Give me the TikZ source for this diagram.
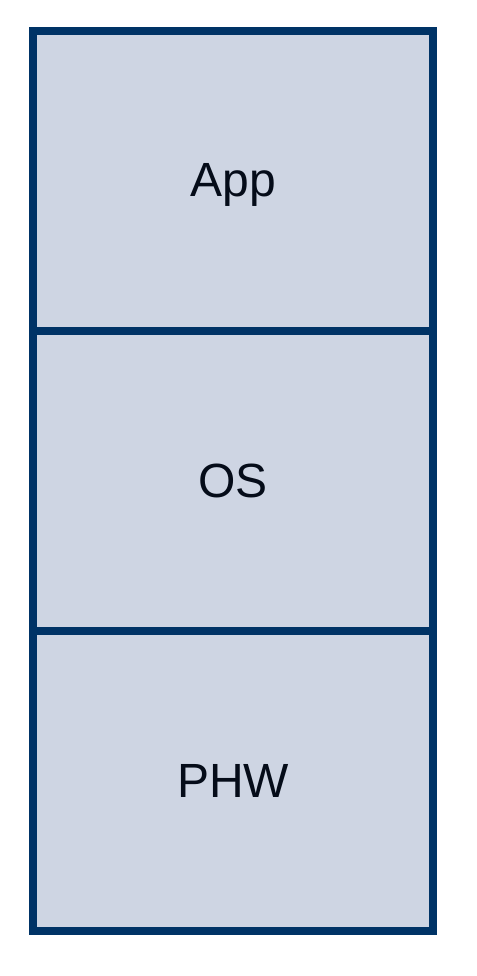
\documentclass[tikz,border=0pt]{standalone}
\usepackage{fontspec}
\setmainfont{Liberation Sans}
\usepackage{tikz}
\usepackage{xcolor}
\usetikzlibrary{positioning}
\definecolor{layerblue}{RGB}{0,51,102}
\definecolor{layerfill}{RGB}{206,213,227}
\definecolor{layertext}{RGB}{5,12,25}

\begin{document}
\begin{tikzpicture}[
        layer/.style={draw=layerblue, fill=layerfill, line width=8pt,
            minimum width=400pt, minimum height=300pt, inner sep=0pt, outer sep=0pt,
            text height=32pt, text depth=0pt,
            text=layertext, font=\fontsize{48}{56}\selectfont}
    ]
            \useasboundingbox (0, 0) rectangle (476pt, -976pt);

            % stack of layers
            \node[layer] (app) at (233pt, -181pt) {App};
            \node[layer, below=0pt of app] (os) {OS};
            \node[layer, below=0pt of os] (phw) {PHW};
        \end{tikzpicture}
\end{document}
